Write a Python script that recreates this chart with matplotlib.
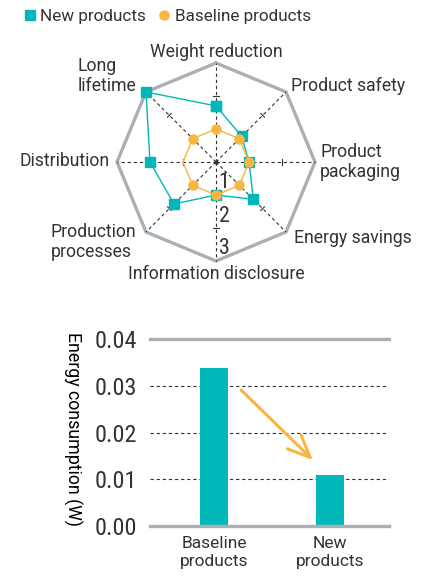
import numpy as np
import matplotlib
matplotlib.use('Agg')
import matplotlib.pyplot as plt
from matplotlib.lines import Line2D
from matplotlib import font_manager as fm
from matplotlib.textpath import TextPath

# ---------------- data ----------------
categories = ["Weight reduction", "Product safety", "Product\npackaging", "Energy savings",
              "Information disclosure", "Production\nprocesses", "Distribution", "Long\nlifetime"]
new_scores = [1.7, 1.1, 1.0, 1.6, 1.0, 1.8, 2.0, 3.0]
baseline_scores = [1.0, 1.0, 1.0, 1.0, 1.0, 1.0, 1.0, 1.0]
scale_ticks = [1, 2, 3]
series_names = ["New products", "Baseline products"]

bar_labels = ["Baseline\nproducts", "New\nproducts"]
energy_w = [0.0338, 0.0109]
energy_ticks = [0.00, 0.01, 0.02, 0.03, 0.04]
y_title = "Energy consumption (W)"

# ---------------- style ----------------
TEAL = '#00B8B9'
ORANGE = '#F6B640'
GRAY = '#A8B0B6'
TEXT = '#333333'
DASH = (0, (3, 2.5))

plt.rcParams['font.family'] = ['Roboto', 'DejaVu Sans']
plt.rcParams['text.color'] = TEXT


def pick_condensed():
    """Find a condensed/narrow face among installed fonts, else Roboto."""
    pref = ['Liberation Sans Narrow', 'Roboto Condensed', 'Noto Sans', 'Open Sans',
            'DejaVu Sans', 'Lato', 'Inter', 'Liberation Sans']
    cands = []
    for f in fm.fontManager.ttflist:
        st = str(f.stretch).lower()
        narrow = ('narrow' in f.name.lower() or 'condensed' in f.name.lower()
                  or st in ('condensed', 'semi-condensed', 'extra-condensed'))
        if not narrow or f.style != 'normal':
            continue
        try:
            w = int(f.weight)
        except Exception:
            w = 400
        if w < 400 or w > 500:
            continue
        rank = pref.index(f.name) if f.name in pref else len(pref)
        cands.append((rank, abs(w - 450), f.fname))
    if cands:
        cands.sort()
        return fm.FontProperties(fname=cands[0][2])
    return fm.FontProperties(family='Roboto')


COND = pick_condensed()


def fit_size(s, max_w_px, max_h_px):
    ext = TextPath((0, 0), s, size=100, prop=COND).get_extents()
    return min(max_w_px * 72 / ext.width, max_h_px * 72 / ext.height)


tick_size = fit_size("0.04", 40, 20)
scale_size = fit_size("2", 9, 16)

fig = plt.figure(figsize=(4.28, 5.76), dpi=100)

# ---------------- radar ----------------
ax = fig.add_axes([117/428, 1-261/576, 198/428, 198/576], projection='polar')
ax.set_theta_offset(np.pi/2)
ax.set_theta_direction(-1)
rmax = max(scale_ticks)
ax.set_ylim(0, rmax)
ax.axis('off')

n = len(categories)
theta = np.arange(n) * 2*np.pi/n
th_c = np.append(theta, theta[0])

ax.plot(th_c, np.full(n+1, rmax), color=GRAY, lw=2.4, solid_joinstyle='miter',
        clip_on=False, zorder=1)
px_per_unit = 99 / rmax
for t in theta:
    ax.plot([t, t], [0, rmax], color=TEXT, lw=0.8, ls=DASH, clip_on=False, zorder=1)
    for r in scale_ticks[:-1]:
        d = 2.6 / (r * px_per_unit)
        ax.plot([t-d, t+d], [r, r], color=TEXT, lw=0.8, clip_on=False, zorder=1)
ax.plot([0], [0], 'o', color=TEXT, ms=2.2, clip_on=False, zorder=1)

ax.plot(th_c, np.append(new_scores, new_scores[0]), color=TEAL, lw=1.0,
        marker='s', ms=6.5, clip_on=False, zorder=3)
mark_idx = [i for i, c in enumerate(categories) if c != "Distribution"]
ax.plot(th_c, np.append(baseline_scores, baseline_scores[0]), color=ORANGE, lw=1.0,
        marker='o', ms=6.5, markevery=mark_idx, clip_on=False, zorder=4)

for v in scale_ticks:
    ax.annotate(str(v), xy=(np.pi, v), xytext=(8, 12), textcoords='offset pixels',
                ha='center', va='center', fontproperties=COND, fontsize=scale_size,
                annotation_clip=False, zorder=5)

label_pos = [((0, 11), 'center'), ((5, 6), 'left'), ((5, 0), 'left'), ((8, -6), 'left'),
             ((0, -13), 'center'), ((-10, -10), 'right'), ((-7, 1), 'right'),
             ((-10, 16), 'right')]
for t, lab, (off, ha) in zip(theta, categories, label_pos):
    ax.annotate(lab, xy=(t, rmax), xytext=off, textcoords='offset pixels',
                ha=ha, va='center', multialignment='left', fontsize=12.7,
                linespacing=1.1, annotation_clip=False)

handles = [Line2D([], [], ls='none', marker='s', color=TEAL, ms=6.8),
           Line2D([], [], ls='none', marker='o', color=ORANGE, ms=6.5)]
fig.legend(handles, series_names, loc='upper left', bbox_to_anchor=(0.057, 0.984),
           ncol=2, frameon=False, handlelength=0.6, handletextpad=0.3,
           columnspacing=0.8, fontsize=12.3, borderaxespad=0, borderpad=0)

# ---------------- bar chart ----------------
bx = fig.add_axes([150/428, 1-526/576, 239/428, 187/576])
x = np.arange(len(bar_labels))
bx.bar(x, energy_w, width=0.24, color=TEAL, zorder=2)
bx.set_xlim(-0.552, 1.509)
bx.set_ylim(min(energy_ticks), max(energy_ticks))
for v in energy_ticks:
    if v in (min(energy_ticks), max(energy_ticks)):
        bx.axhline(v, color=GRAY, lw=2.4, clip_on=False, zorder=3)
    else:
        bx.axhline(v, color=TEXT, lw=0.8, ls=DASH, zorder=1)
for s in bx.spines.values():
    s.set_visible(False)
bx.set_yticks(energy_ticks)
bx.set_yticklabels([f"{v:.2f}" for v in energy_ticks], fontproperties=COND,
                   fontsize=tick_size)
bx.set_xticks(x)
bx.set_xticklabels(bar_labels, fontsize=12.5, linespacing=1.3)
bx.tick_params(axis='y', length=0, pad=9, colors=TEXT)
bx.tick_params(axis='x', length=0, pad=7, colors=TEXT)
bx.set_ylabel(y_title, rotation=270, fontsize=12.8, va='center', ha='center')
bx.yaxis.set_label_coords(-0.322, 0.52)

bx.annotate('', xy=(0.853, 0.0141), xytext=(0.233, 0.0291),
            arrowprops=dict(arrowstyle='->,head_length=0.8,head_width=0.35',
                            color=ORANGE, lw=2.2, mutation_scale=20,
                            shrinkA=0, shrinkB=0), zorder=4)

fig.savefig('out.png', dpi=100)
